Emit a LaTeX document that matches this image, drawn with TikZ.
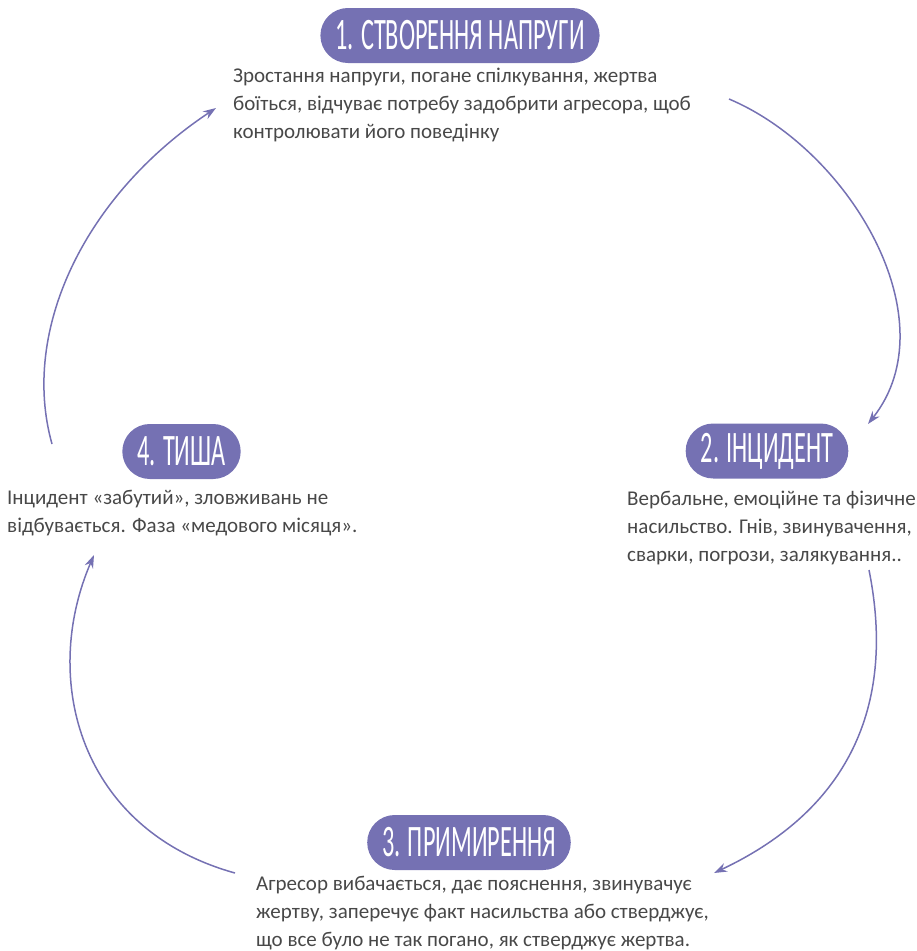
\documentclass[tikz,border=0pt]{standalone}
\usepackage{fontspec}
\setmainfont{Carlito}
\usetikzlibrary{arrows.meta}

\definecolor{phasefill}{RGB}{117,113,179}
\definecolor{bodytext}{RGB}{72,72,72}
\newcommand{\phasetitle}[1]{\scalebox{0.54}[1]{\fontsize{45}{45}\selectfont #1}}

\tikzset{
  phase/.style={fill=phasefill, text=white, rounded corners=27.5pt,
    minimum height=55pt, inner xsep=15pt, inner ysep=0pt},
  desc/.style={anchor=base west, align=left, text=bodytext, inner sep=0pt,
    font=\fontsize{21}{28}\selectfont},
  cyclearrow/.style={draw=phasefill, line width=1.5pt,
    -{Stealth[length=13pt,width=9pt]}}
}

\begin{document}
\begin{tikzpicture}[x=1pt,y=-1pt]
        \useasboundingbox (0,0) rectangle (917,951);

        % Phase 1 (desc nodes sit on the baseline of their last line)
        \node[phase] (p1) at (460,35.5) {\phasetitle{1. СТВОРЕННЯ НАПРУГИ}};
        \node[desc] (t1) at (233,138.3) {Зростання напруги, погане спілкування, жертва\\
          боїться, відчуває потребу задобрити агресора, щоб\\
          контролювати його поведінку};

        % Phase 2
        \node[phase] (p2) at (767,451) {\phasetitle{2. ІНЦИДЕНТ}};
        \node[desc] (t2) at (627,561) {Вербальне, емоційне та фізичне\\
          насильство. Гнів, звинувачення,\\
          сварки, погрози, залякування..};

        % Phase 3
        \node[phase] (p3) at (469,842.5) {\phasetitle{3. ПРИМИРЕННЯ}};
        \node[desc] (t3) at (256,946) {Агресор вибачається, дає пояснення, звинувачує\\
          жертву, заперечує факт насильства або стверджує,\\
          що все було не так погано, як стверджує жертва.};

        % Phase 4
        \node[phase] (p4) at (181.5,451.5) {\phasetitle{4. ТИША}};
        \node[desc] (t4) at (7,532) {Інцидент «забутий», зловживань не\\
          відбувається. Фаза «медового місяця».};

        % Cycle arrows
        \coordinate (a1) at (729,99);
        \coordinate (a2) at (868,424);
        \coordinate (b1) at (869,570);
        \coordinate (b2) at (714,873);
        \coordinate (c1) at (235,873);
        \coordinate (c2) at (94,555);
        \coordinate (d1) at (52,444);
        \coordinate (d2) at (216,108);

        \draw[cyclearrow] (a1) .. controls (850,150) and (950,320) .. (a2);
        \draw[cyclearrow] (b1) .. controls (885,650) and (890,790) .. (b2);
        \draw[cyclearrow] (c1) .. controls (80,830) and (40,680) .. (c2);
        \draw[cyclearrow] (d1) .. controls (20,330) and (85,195) .. (d2);
    \end{tikzpicture}
\end{document}
